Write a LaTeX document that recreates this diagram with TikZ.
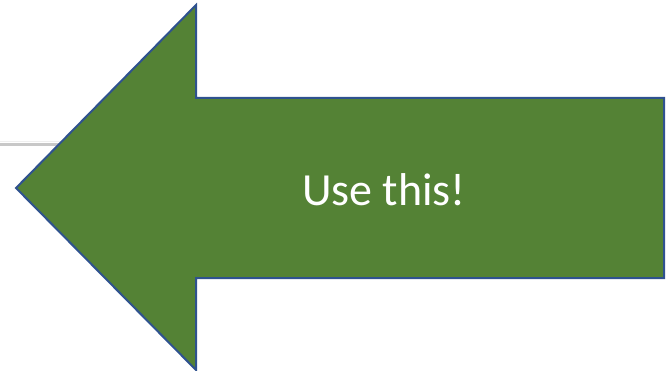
\documentclass[tikz,border=0pt]{standalone}
\usepackage{fontspec}
\setmainfont{Carlito}
\usepackage{xcolor}
\definecolor{ArrowGreen}{RGB}{84,130,53}
\definecolor{EdgeBlue}{RGB}{47,82,143}
\definecolor{RuleGray}{RGB}{200,200,200}
\definecolor{RuleLight}{RGB}{239,239,239}
\tikzset{
  bigarrow/.style = {draw=EdgeBlue, fill=ArrowGreen, line width=2pt, line join=miter},
  rule/.style     = {line width=3pt, RuleGray},
  rulelight/.style= {line width=1.5pt, RuleLight}
}

\begin{document}
\begin{tikzpicture}[
    x=1pt, y=-1pt,
    label/.style={text=white, font=\fontsize{46}{50}\selectfont, inner sep=0pt}
]
\useasboundingbox (0,0) rectangle (666,371);

% grey rule behind the arrow
\draw[rulelight] (0,141.5) -- (70,141.5);
\draw[rule] (0,144.5) -- (70,144.5);

% the arrow
\draw[bigarrow] (16,188) -- (196,5) -- (196,98) -- (664,98)
    -- (664,278) -- (196,278) -- (196,370) -- cycle;

\node[label] (usethis) at (384,190) {Use this!};
\end{tikzpicture}
\end{document}
